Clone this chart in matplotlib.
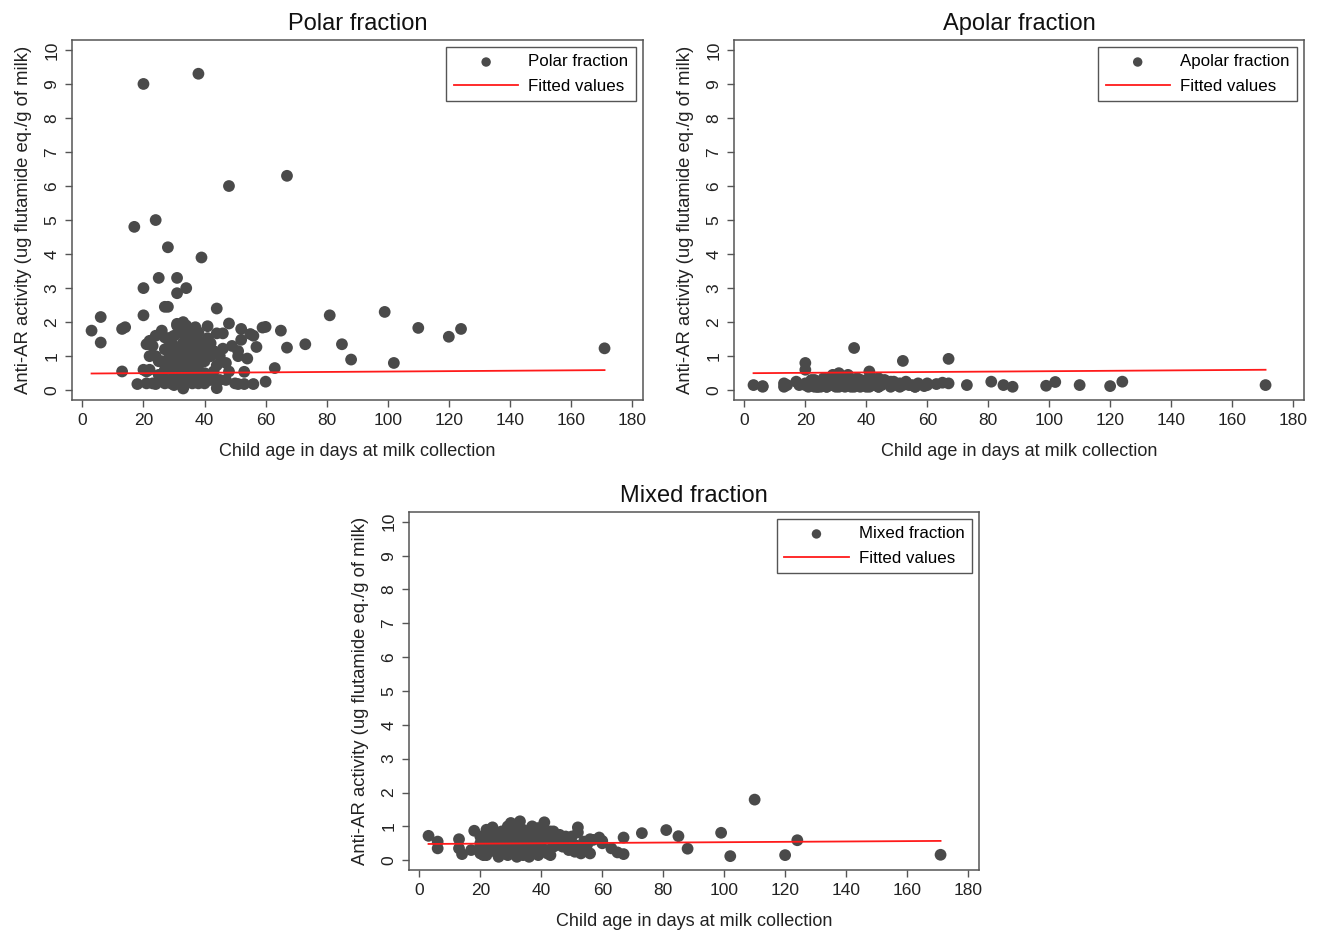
import numpy as np
import matplotlib
matplotlib.use("Agg")
import matplotlib.pyplot as plt

plt.rcParams['font.family'] = ['Liberation Sans', 'DejaVu Sans']

# child age in days (shared by the three fractions)
age = [3, 6, 6, 13, 14, 13, 18, 17, 20, 20, 20, 24, 38, 67, 48, 28, 39, 25, 31, 31,
       34, 27, 28, 44, 81, 73, 85, 88, 99, 102, 110, 120, 124, 171, 67, 65, 63, 60, 59, 60,
       56, 55, 57, 52, 48, 52, 51, 51, 54, 53, 51, 53, 56, 47, 46, 44, 46, 41, 41, 42,
       41, 42, 38, 39, 44, 40, 43, 42, 44, 47, 22, 23, 22, 21, 23, 24, 25, 24, 26, 26,
       27, 27, 28, 28, 28, 29, 29, 29, 30, 30, 30, 30, 30, 31, 31, 31, 31, 32, 32, 32,
       32, 33, 33, 33, 33, 33, 34, 34, 34, 34, 35, 35, 35, 35, 36, 36, 36, 36, 37, 37,
       37, 38, 38, 38, 38, 39, 39, 40, 40, 40, 20, 21, 22, 25, 26, 27, 29, 31, 34, 24,
       45, 45, 48, 49, 50, 43, 37, 33, 27, 21]

polar = [1.75, 2.15, 1.40, 1.80, 1.85, 0.55, 0.18, 4.80, 9.00, 3.00, 2.20, 5.00, 9.30, 6.30, 6.00, 4.20, 3.90, 3.30, 3.30, 2.85,
         3.00, 2.45, 2.45, 2.40, 2.20, 1.35, 1.35, 0.90, 2.30, 0.80, 1.83, 1.57, 1.80, 1.23, 1.25, 1.75, 0.65, 0.25, 1.84, 1.86,
         1.60, 1.65, 1.27, 1.80, 1.96, 1.48, 1.15, 1.00, 0.93, 0.54, 0.18, 0.18, 0.18, 0.80, 1.22, 1.67, 1.67, 1.88, 1.53, 1.38,
         1.05, 1.00, 1.10, 0.90, 0.73, 0.50, 0.55, 0.30, 0.06, 0.30, 1.45, 1.30, 0.60, 0.55, 0.20, 0.18, 0.85, 1.00, 1.75, 0.40,
         1.20, 0.60, 1.50, 0.90, 0.30, 1.10, 0.70, 0.20, 1.60, 1.30, 0.80, 0.50, 0.15, 1.90, 1.00, 0.60, 0.30, 1.70, 1.20, 0.80,
         0.40, 2.00, 1.40, 0.95, 0.50, 0.20, 1.60, 1.10, 0.70, 0.25, 1.75, 1.25, 0.85, 0.40, 1.50, 0.95, 0.55, 0.20, 1.30, 0.75,
         0.35, 1.70, 1.00, 0.60, 0.20, 1.40, 0.45, 1.20, 0.85, 0.20, 0.60, 0.20, 1.00, 0.45, 0.85, 0.20, 1.55, 1.95, 1.90, 1.60,
         1.00, 0.30, 0.55, 1.30, 0.20, 1.15, 1.85, 0.05, 1.55, 1.35]

apolar = [0.15, 0.10, 0.12, 0.10, 0.15, 0.20, 0.15, 0.25, 0.80, 0.60, 0.15, 0.20, 0.30, 0.92, 0.20, 0.35, 0.20, 0.10, 0.50, 0.25,
          0.15, 0.30, 0.20, 0.35, 0.25, 0.15, 0.15, 0.10, 0.13, 0.24, 0.15, 0.12, 0.25, 0.15, 0.20, 0.22, 0.18, 0.15, 0.12, 0.20,
          0.10, 0.15, 0.20, 0.86, 0.25, 0.15, 0.20, 0.10, 0.15, 0.20, 0.12, 0.25, 0.10, 0.20, 0.30, 0.15, 0.25, 0.20, 0.10, 0.35,
          0.55, 0.25, 0.20, 0.15, 0.10, 0.30, 0.20, 0.15, 0.10, 0.25, 0.20, 0.10, 0.25, 0.15, 0.30, 0.10, 0.20, 0.15, 0.35, 0.20,
          0.10, 0.25, 0.15, 0.30, 0.20, 0.45, 0.15, 0.25, 0.10, 0.20, 0.35, 0.15, 0.25, 0.40, 0.15, 0.20, 0.10, 0.30, 0.20, 0.15,
          0.25, 0.15, 0.35, 0.20, 0.10, 0.30, 0.20, 0.15, 0.25, 0.45, 0.10, 0.20, 0.30, 0.15, 1.24, 0.20, 0.10, 0.25, 0.15, 0.35,
          0.20, 0.15, 0.25, 0.10, 0.30, 0.20, 0.15, 0.25, 0.10, 0.20, 0.20, 0.10, 0.30, 0.15, 0.20, 0.10, 0.30, 0.20, 0.25, 0.10,
          0.20, 0.15, 0.10, 0.25, 0.15, 0.30, 0.20, 0.15, 0.30, 0.20]

mixed = [0.72, 0.55, 0.35, 0.35, 0.18, 0.62, 0.87, 0.30, 0.50, 0.20, 0.70, 0.97, 0.60, 0.67, 0.40, 0.45, 0.80, 0.30, 0.75, 0.40,
         0.55, 0.25, 0.65, 0.50, 0.89, 0.80, 0.71, 0.34, 0.81, 0.12, 1.79, 0.15, 0.59, 0.16, 0.18, 0.23, 0.35, 0.57, 0.67, 0.50,
         0.62, 0.45, 0.60, 0.97, 0.70, 0.82, 0.30, 0.25, 0.55, 0.20, 0.45, 0.35, 0.20, 0.60, 0.75, 0.40, 0.55, 1.12, 0.80, 0.30,
         0.65, 0.20, 0.45, 0.95, 0.85, 0.35, 0.15, 0.70, 0.50, 0.40, 0.90, 0.30, 0.15, 0.60, 0.45, 0.80, 0.25, 0.55, 0.70, 0.10,
         0.35, 0.85, 0.60, 0.20, 0.50, 1.00, 0.40, 0.15, 0.75, 1.10, 0.30, 0.55, 0.85, 0.65, 0.20, 0.45, 0.95, 0.35, 0.70, 0.10,
         0.55, 0.80, 0.25, 0.60, 1.15, 0.40, 0.65, 0.15, 0.90, 0.50, 0.35, 0.75, 0.20, 0.55, 0.85, 0.30, 0.60, 0.10, 0.45, 1.00,
         0.70, 0.25, 0.55, 0.80, 0.35, 0.65, 0.15, 0.90, 0.40, 0.70, 0.40, 0.20, 0.75, 0.60, 0.45, 0.80, 0.25, 0.50, 0.35, 0.85,
         0.60, 0.45, 0.65, 0.30, 0.70, 0.85, 0.55, 0.45, 0.60, 0.15]

# fitted-value line endpoints (linear fit as drawn)
fit_age = [3, 171]
fit_polar = [0.49, 0.59]
fit_apolar = [0.50, 0.60]
fit_mixed = [0.48, 0.57]

titles = ["Polar fraction", "Apolar fraction", "Mixed fraction"]
xticks = list(range(0, 181, 20))
yticks = list(range(0, 11))

DOT = '#4a4a4a'
FRAME = '#555555'

fig = plt.figure(figsize=(13.19, 9.36), dpi=100)
positions = [[0.0546, 0.5726, 0.4329, 0.3846],
             [0.5565, 0.5726, 0.4321, 0.3846],
             [0.3101, 0.0705, 0.4321, 0.3825]]

panels = [(polar, fit_polar), (apolar, fit_apolar), (mixed, fit_mixed)]

for pos, title, (vals, fit) in zip(positions, titles, panels):
    ax = fig.add_axes(pos)
    ax.scatter(age, vals, s=72, color=DOT, edgecolors='none', label=title, zorder=3)
    ax.plot(fit_age, fit, color='#ff1a1a', lw=1.3, label='Fitted values', zorder=4)

    ax.set_xlim(-3.4, 183.6)
    ax.set_ylim(-0.29, 10.29)
    ax.set_xticks(xticks)
    ax.set_yticks(yticks)
    ax.set_yticklabels([str(t) for t in yticks], rotation=90, va='center')
    ax.tick_params(direction='out', length=5, width=1, color=FRAME,
                   labelsize=12.5, labelcolor='#222222', pad=4)
    for sp in ax.spines.values():
        sp.set_color(FRAME)
        sp.set_linewidth(1.1)

    ax.set_title(title, fontsize=17, color='#111111', pad=7)
    ax.set_xlabel("Child age in days at milk collection", fontsize=13,
                  color='#222222', labelpad=11)
    ax.set_ylabel("Anti-AR activity (ug flutamide eq./g of milk)", fontsize=13.3,
                  color='#222222', labelpad=9)

    leg = ax.legend(loc='upper right', fancybox=False, framealpha=1,
                    edgecolor=FRAME, fontsize=12.2, handlelength=3.8,
                    markerscale=0.8, borderpad=0.45, labelspacing=0.55,
                    handletextpad=0.6, borderaxespad=0.4)
    leg.get_frame().set_linewidth(1.0)

fig.savefig("out.png", dpi=100)
